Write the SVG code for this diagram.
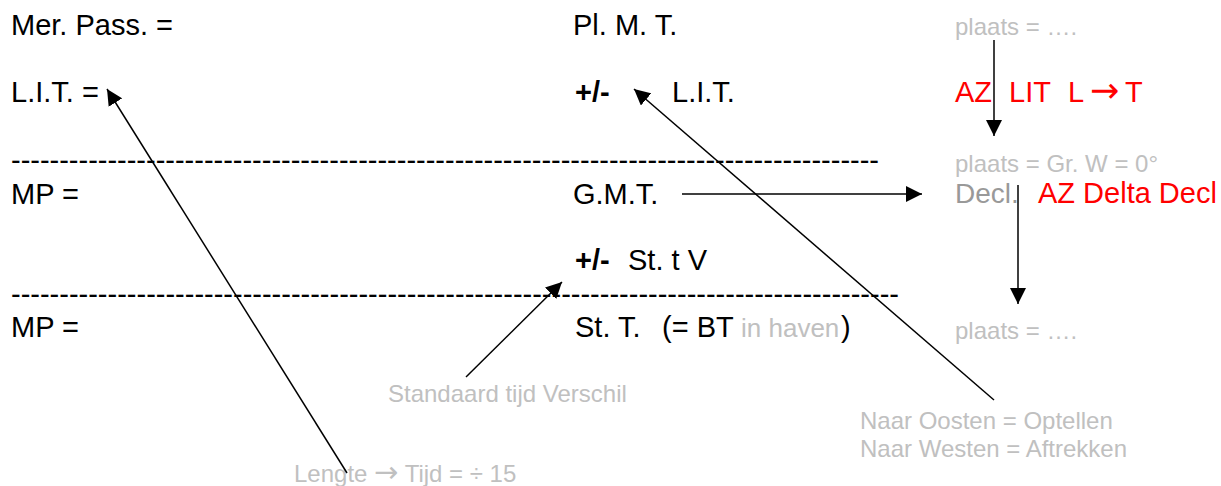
<svg xmlns="http://www.w3.org/2000/svg" width="1221" height="486" viewBox="0 0 1221 486">
<defs>
<style>
text{font-family:"Liberation Sans",Arial,sans-serif;}
.m{font-size:29px;fill:#000;}
.b{font-weight:bold;}
.g{font-size:24px;fill:#c0c0c0;}
.d{font-size:28px;fill:#999999;}
.r{font-size:29px;fill:#ff0000;}
.h{font-size:29px;fill:#000;}
.ar{font-family:"DejaVu Sans",sans-serif;}
.ln{stroke:#000;stroke-width:1.5;fill:none;marker-end:url(#ah);}
</style>
<marker id="ah" markerUnits="userSpaceOnUse" markerWidth="17" markerHeight="16" refX="16" refY="8" orient="auto" viewBox="0 0 17 16">
<path d="M0,0 L16,8 L0,16 z" fill="#000"/>
</marker>
</defs>
<rect width="1221" height="486" fill="#fff"/>

<g id="left-col">
<text class="m" x="11" y="35">Mer. Pass. =</text>
<text class="m" x="11" y="102">L.I.T. =</text>
<text class="m" x="11" y="204">MP =</text>
<text class="m" x="11" y="337">MP =</text>
</g>

<g id="separators">
<text class="h" x="11" y="170" textLength="868" lengthAdjust="spacing">------------------------------------------------------------------------------------------</text>
<text class="h" x="11" y="304" textLength="888" lengthAdjust="spacing">--------------------------------------------------------------------------------------------</text>
</g>

<g id="mid-col">
<text class="m" x="573" y="35">Pl. M. T.</text>
<text class="m" x="575" y="102"><tspan class="b">+/-</tspan><tspan x="672">L.I.T.</tspan></text>
<text class="m" x="573" y="204">G.M.T.</text>
<text class="m" x="575" y="270"><tspan class="b">+/-</tspan><tspan x="628">St. t V</tspan></text>
<text class="m" x="575" y="337">St. T.<tspan x="662">(= BT</tspan><tspan x="741" font-size="26" fill="#c0c0c0">in haven</tspan><tspan x="841">)</tspan></text>
</g>

<g id="right-col">
<text class="g" x="955" y="35">plaats = ….</text>
<text class="r" x="955" y="102">AZ<tspan x="1009">LIT</tspan><tspan x="1068">L</tspan><tspan class="ar" x="1090" font-size="35">→</tspan><tspan x="1125">T</tspan></text>
<text class="g" x="955" y="172">plaats = Gr. W = 0°</text>
<text class="d" x="955" y="203">Decl.</text>
<text class="r" x="1038" y="203">AZ Delta Decl</text>
<text class="g" x="955" y="339">plaats = ….</text>
</g>

<g id="notes">
<text class="g" x="388" y="402">Standaard tijd Verschil</text>
<text class="g" x="860" y="429">Naar Oosten = Optellen</text>
<text class="g" x="860" y="457">Naar Westen = Aftrekken</text>
<text class="g" x="294" y="482">Lengte <tspan class="ar" font-size="29">→</tspan> Tijd = ÷ 15</text>
</g>

<g id="connectors">
<line class="ln" x1="347" y1="473" x2="107" y2="89"/>
<line class="ln" x1="994" y1="400" x2="634" y2="89"/>
<line class="ln" x1="466" y1="377" x2="562" y2="282"/>
<line class="ln" x1="682" y1="194" x2="922" y2="194"/>
<line class="ln" x1="994" y1="40" x2="994" y2="136"/>
<line class="ln" x1="1018" y1="185" x2="1018" y2="304"/>
</g>
</svg>
